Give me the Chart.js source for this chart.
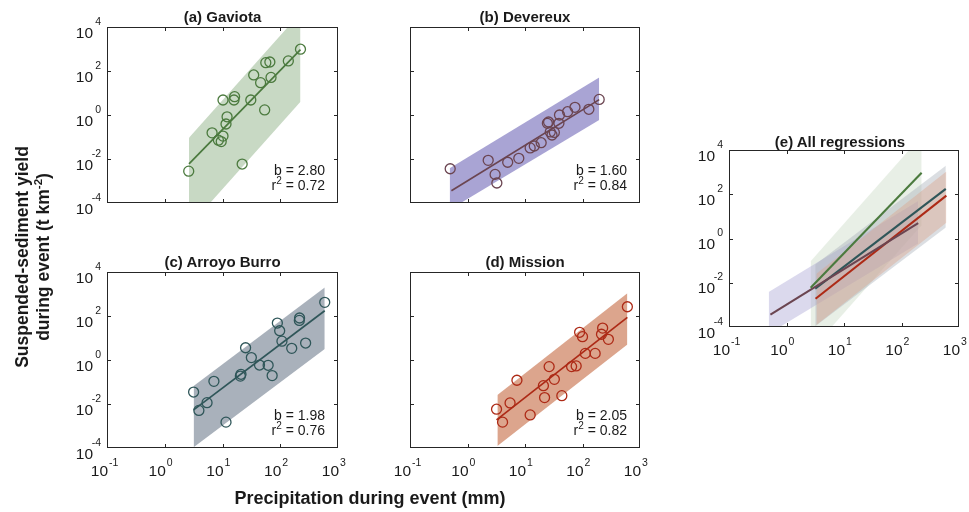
<!DOCTYPE html>
<html>
<head>
<meta charset="utf-8">
<script src="https://cdn.jsdelivr.net/npm/chart.js@4.4.0/dist/chart.umd.min.js"></script>
<style>
  body { margin: 0; background: #fff; }
  #wrap { position: relative; width: 969px; height: 512px; overflow: hidden; font-family: "Liberation Sans", Arial, sans-serif; color: #1a1a1a; }
  #wrap canvas { position: absolute; left: 0; top: 0; }
  .ttl { position: absolute; width: 300px; text-align: center; font-weight: bold; font-size: 15px; line-height: 15px; white-space: nowrap; }
  .stat { position: absolute; width: 120px; text-align: right; font-size: 14px; line-height: 14px; white-space: nowrap; }
  .sup { font-size: 10px; position: relative; top: -6px; }
  #ytitle { position: absolute; width: 300px; height: 42px; text-align: center; font-weight: bold; font-size: 17.5px; line-height: 21px; transform: rotate(-90deg); white-space: nowrap; }
  #ytitle .sup { font-size: 11.5px; top: -7px; }
  #xtitle { position: absolute; width: 400px; text-align: center; font-weight: bold; font-size: 18px; line-height: 18px; white-space: nowrap; }
</style>
</head>
<body>
<div id="wrap"></div>
<script>
// tick labels (powers of ten)
const xTickExps = [-1, 0, 1, 2, 3];
const yTickExps = [-4, -2, 0, 2, 4];

// (a) Gaviota - precipitation (mm) vs yield (t km-2)
const gaviotaPrecip = [2.6, 6.6, 8.5, 9.5, 10.2, 12.0, 11.5, 10.2, 16.2, 15.8, 21.9, 30.9, 34.7, 45.7, 53.7, 56.2, 66.1, 69.2, 138, 224];
const gaviotaYield = [0.0028, 0.155, 0.072, 0.062, 0.11, 0.83, 0.39, 4.8, 6.8, 4.8, 0.0059, 4.8, 66, 29.5, 1.7, 240, 257, 51, 288, 977];
const gaviotaFitX = [2.63, 224];
const gaviotaFitY = [0.0060, 933];
const gaviotaBandX = [2.63, 224];
const gaviotaBandUpper = [0.093, 43650];
const gaviotaBandLower = [0.0000085, 3.98];

// (b) Devereux
const devereuxPrecip = [0.50, 2.29, 3.02, 3.24, 5.0, 7.8, 12.3, 14.5, 19.1, 24.5, 25.7, 27.5, 29.5, 32.4, 38.9, 39.8, 55, 74, 129, 195];
const devereuxYield = [0.0036, 0.0087, 0.0020, 0.00081, 0.0071, 0.0107, 0.032, 0.039, 0.055, 0.42, 0.48, 0.17, 0.123, 0.162, 0.42, 1.0, 1.41, 2.24, 1.82, 5.1];
const devereuxFitX = [0.525, 195];
const devereuxFitY = [0.00036, 5.0];
const devereuxBandX = [0.49, 195];
const devereuxBandUpper = [0.0038, 50];
const devereuxBandLower = [0.00005, 0.59];

// (c) Arroyo Burro
const arroyoPrecip = [3.16, 3.9, 5.4, 7.1, 11.5, 20.4, 20.9, 25.1, 31.6, 43.7, 61.7, 72.4, 89.1, 97.7, 107, 158, 214, 216, 275, 589];
const arroyoYield = [0.035, 0.0051, 0.0115, 0.107, 0.0015, 0.186, 0.224, 3.6, 1.29, 0.59, 0.575, 0.195, 47.9, 21.4, 7.2, 3.4, 63, 81, 5.9, 417];
const arroyoFitX = [3.16, 589];
const arroyoFitY = [0.0054, 174];
const arroyoBandX = [3.16, 589];
const arroyoBandUpper = [0.066, 1950];
const arroyoBandLower = [0.000107, 3.16];

// (d) Mission
const missionPrecip = [3.2, 4.07, 5.5, 7.24, 12.3, 20.9, 21.9, 26.3, 32.4, 43.7, 64.6, 77.6, 89.1, 100, 112, 166, 224, 214, 282, 603];
const missionYield = [0.0058, 0.0015, 0.0112, 0.12, 0.0032, 0.068, 0.0195, 0.50, 0.132, 0.024, 0.50, 0.54, 18.2, 11.5, 2.0, 2.0, 28.2, 14.8, 8.7, 263];
const missionFitX = [3.2, 603];
const missionFitY = [0.0019, 87];
const missionBandX = [3.31, 603];
const missionBandUpper = [0.0257, 1072];
const missionBandLower = [0.000123, 5.13];

const statB = ["2.80", "1.60", "1.98", "2.05"];
const statR2 = ["0.72", "0.84", "0.76", "0.82"];
const siteNames = ["(a) Gaviota", "(b) Devereux", "(c) Arroyo Burro", "(d) Mission"];

const pts = (xs, ys) => xs.map((x, i) => ({ x: x, y: ys[i] }));

const sites = [
  { px: gaviotaPrecip, py: gaviotaYield, fx: gaviotaFitX, fy: gaviotaFitY, bx: gaviotaBandX, bu: gaviotaBandUpper, bl: gaviotaBandLower, color: "#4b7a3e", band: [200, 217, 196] },
  { px: devereuxPrecip, py: devereuxYield, fx: devereuxFitX, fy: devereuxFitY, bx: devereuxBandX, bu: devereuxBandUpper, bl: devereuxBandLower, color: "#6b4551", band: [169, 164, 212] },
  { px: arroyoPrecip, py: arroyoYield, fx: arroyoFitX, fy: arroyoFitY, bx: arroyoBandX, bu: arroyoBandUpper, bl: arroyoBandLower, color: "#2f5659", band: [169, 177, 187] },
  { px: missionPrecip, py: missionYield, fx: missionFitX, fy: missionFitY, bx: missionBandX, bu: missionBandUpper, bl: missionBandLower, color: "#ad2a16", band: [220, 165, 141] },
];

// panel frames: left, top, right, bottom
const panels = [
  { site: 0, box: [107, 27, 338, 203], xl: false, yl: true },
  { site: 1, box: [410, 27, 640, 203], xl: false, yl: false },
  { site: 2, box: [107, 272, 338, 448], xl: true, yl: true },
  { site: 3, box: [410, 272, 640, 448], xl: true, yl: false },
  { site: -1, box: [729, 150, 959, 327], xl: true, yl: true },
];

const FONT = '"Liberation Sans", Arial, sans-serif';

const framePlugin = {
  id: "frame",
  afterDraw(chart, args, opts) {
    const ctx = chart.ctx, a = chart.chartArea;
    const xs = chart.scales.x, ys = chart.scales.y;
    ctx.save();
    ctx.strokeStyle = "#262626";
    ctx.lineWidth = 1;
    ctx.strokeRect(a.left + 0.5, a.top + 0.5, a.right - a.left - 1, a.bottom - a.top - 1);
    ctx.beginPath();
    xTickExps.slice(1, -1).forEach(e => {
      const p = Math.round(xs.getPixelForValue(Math.pow(10, e))) + 0.5;
      ctx.moveTo(p, a.bottom); ctx.lineTo(p, a.bottom - 4);
      ctx.moveTo(p, a.top); ctx.lineTo(p, a.top + 4);
    });
    yTickExps.slice(1, -1).forEach(e => {
      const p = Math.round(ys.getPixelForValue(Math.pow(10, e))) + 0.5;
      ctx.moveTo(a.left, p); ctx.lineTo(a.left + 4, p);
      ctx.moveTo(a.right, p); ctx.lineTo(a.right - 4, p);
    });
    ctx.stroke();
    ctx.fillStyle = "#1a1a1a";
    ctx.textBaseline = "alphabetic";
    if (opts.xl) {
      xTickExps.forEach(e => {
        const p = xs.getPixelForValue(Math.pow(10, e));
        ctx.font = "15.5px " + FONT; ctx.textAlign = "right";
        ctx.fillText("10", p + 1, a.bottom + 27.5);
        ctx.font = "10.5px " + FONT; ctx.textAlign = "left";
        ctx.fillText(String(e), p + 2, a.bottom + 17.5);
      });
    }
    if (opts.yl) {
      yTickExps.forEach(e => {
        const p = ys.getPixelForValue(Math.pow(10, e));
        ctx.font = "15.5px " + FONT; ctx.textAlign = "right";
        ctx.fillText("10", a.left - 14, p + 10.5);
        ctx.font = "10.5px " + FONT;
        ctx.fillText(String(e), a.left - 6, p - 2.5);
      });
    }
    ctx.restore();
  }
};

function bandSets(s, alpha) {
  return [
    { data: pts(s.bx, s.bu), fill: "+1", backgroundColor: "rgba(" + s.band.join(",") + "," + alpha + ")", borderWidth: 0, borderColor: "rgba(0,0,0,0)", pointRadius: 0 },
    { data: pts(s.bx, s.bl), fill: false, borderWidth: 0, borderColor: "rgba(0,0,0,0)", pointRadius: 0 },
  ];
}
function fitSet(s, w) {
  return { data: pts(s.fx, s.fy), borderColor: s.color, borderWidth: w, pointRadius: 0, fill: false };
}
function pointSet(s) {
  return { data: pts(s.px, s.py), showLine: false, pointRadius: 5, pointBorderWidth: 1.3,
    pointBorderColor: s.color, pointBackgroundColor: "rgba(0,0,0,0)", fill: false };
}

const wrap = document.getElementById("wrap");

panels.forEach(pn => {
  let datasets;
  if (pn.site >= 0) {
    const s = sites[pn.site];
    datasets = [pointSet(s), fitSet(s, 1.7)].concat(bandSets(s, 1));
  } else {
    datasets = sites.map(s => fitSet(s, 2.1));
    [3, 2, 1, 0].forEach(i => { datasets = datasets.concat(bandSets(sites[i], 0.42)); });
  }
  const cv = document.createElement("canvas");
  cv.width = 969; cv.height = 512;
  wrap.appendChild(cv);
  const b = pn.box;
  new Chart(cv, {
    type: "line",
    data: { datasets: datasets },
    options: {
      responsive: false,
      animation: false,
      events: [],
      layout: { padding: { left: b[0], top: b[1], right: 969 - b[2], bottom: 512 - b[3] } },
      scales: {
        x: { type: "logarithmic", min: 0.1, max: 1000, display: false },
        y: { type: "logarithmic", min: 0.0001, max: 10000, display: false },
      },
      plugins: { legend: { display: false }, tooltip: { enabled: false }, frame: { xl: pn.xl, yl: pn.yl } },
    },
    plugins: [framePlugin],
  });
});

// titles and stats as html text
function addDiv(cls, html, left, top) {
  const d = document.createElement("div");
  d.className = cls; d.innerHTML = html;
  d.style.left = left + "px"; d.style.top = top + "px";
  wrap.appendChild(d);
  return d;
}
panels.forEach((pn, i) => {
  const b = pn.box;
  if (pn.site >= 0) {
    addDiv("ttl", siteNames[i], (b[0] + b[2]) / 2 - 150, b[1] - 18);
    addDiv("stat", "b = " + statB[i], b[2] - 13 - 120, b[3] - 28 - 12);
    addDiv("stat", "r<span class=\"sup\">2</span> = " + statR2[i], b[2] - 13 - 120, b[3] - 13 - 12);
  } else {
    addDiv("ttl", "(e) All regressions", 840 - 150, 134);
  }
});
addDiv("", "Suspended-sediment yield<br>during event (t km<span class=\"sup\">-2</span>)", 33 - 150, 257 - 21).id = "ytitle";
addDiv("", "Precipitation during event (mm)", 370 - 200, 489).id = "xtitle";
</script>
</body>
</html>
